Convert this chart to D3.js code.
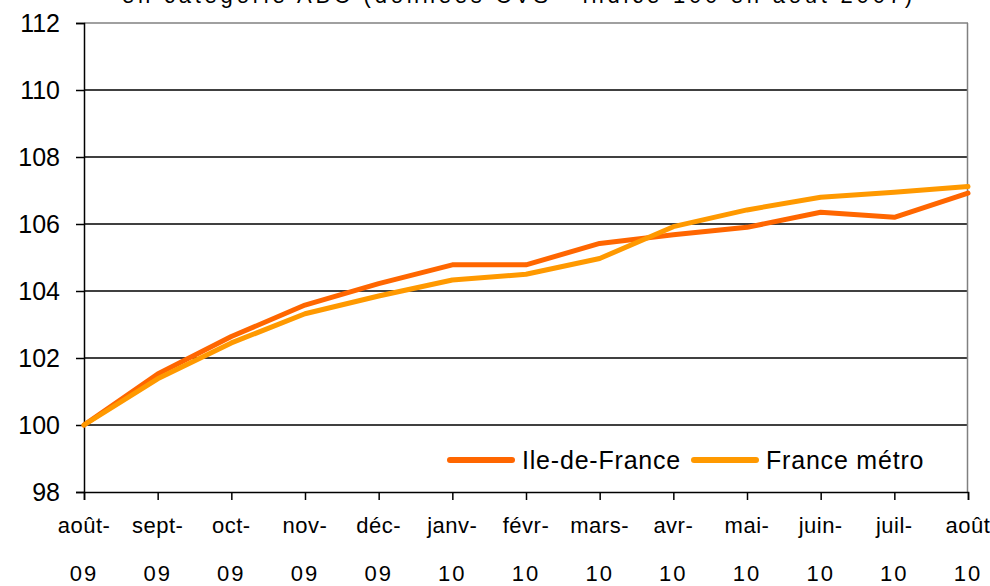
<!DOCTYPE html>
<html>
<head>
<meta charset="utf-8">
<script src="https://cdn.jsdelivr.net/npm/d3@7"></script>
<style>
  body { margin: 0; background: #fff; }
  svg { display: block; font-family: "Liberation Sans", Arial, sans-serif; }
</style>
</head>
<body>
<div id="chart"></div>
<script>
// months along the x axis (two lines each)
var months = ["août-|09", "sept-|09", "oct-|09", "nov-|09", "déc-|09", "janv-|10",
              "févr-|10", "mars-|10", "avr-|10", "mai-|10", "juin-|10", "juil-|10", "août|10"];
var yTicks = [98, 100, 102, 104, 106, 108, 110, 112];
var ileDeFrance = [100, 101.52, 102.64, 103.58, 104.22, 104.78, 104.78, 105.42, 105.68, 105.9, 106.35, 106.2, 106.92];
var franceMetro = [100, 101.38, 102.45, 103.32, 103.85, 104.33, 104.5, 104.97, 105.92, 106.42, 106.8, 106.95, 107.12];
var seriesNames = ["Ile-de-France", "France métro"];
var seriesColors = ["#ff6600", "#ff9900"];
var title = "en catégorie ABC (données CVS - indice 100 en août 2007)";

var W = 990, H = 586;
var margin = { top: 23, right: 22, bottom: 94, left: 84 };

var svg = d3.select("#chart").append("svg")
  .attr("width", W)
  .attr("height", H);

var x = d3.scalePoint()
  .domain(months)
  .range([margin.left, W - margin.right]);

var y = d3.scaleLinear()
  .domain([98, 112])
  .range([H - margin.bottom, margin.top]);

// title, mostly cut off at the top
svg.append("text")
  .attr("x", 517)
  .attr("y", 3)
  .attr("text-anchor", "middle")
  .attr("font-size", 22)
  .attr("textLength", 790)
  .attr("lengthAdjust", "spacing")
  .attr("fill", "#000")
  .text(title);

// grid lines
svg.append("g")
  .selectAll("line")
  .data(yTicks.filter(function(d) { return d > 98 && d < 112; }))
  .enter()
  .append("line")
  .attr("x1", margin.left)
  .attr("x2", W - margin.right)
  .attr("y1", function(d) { return y(d); })
  .attr("y2", function(d) { return y(d); })
  .attr("stroke", "#000")
  .attr("stroke-width", 1.5);

// plot border top and right (grey)
svg.append("line")
  .attr("x1", margin.left).attr("x2", W - margin.right)
  .attr("y1", y(112)).attr("y2", y(112))
  .attr("stroke", "#808080").attr("stroke-width", 1.5);
svg.append("line")
  .attr("x1", W - margin.right - 0.5).attr("x2", W - margin.right - 0.5)
  .attr("y1", y(112)).attr("y2", y(98))
  .attr("stroke", "#808080").attr("stroke-width", 1.5);

// y axis
var yAxis = d3.axisLeft(y).tickValues(yTicks).tickSize(8).tickPadding(16);
var gy = svg.append("g")
  .attr("transform", "translate(" + margin.left + ",0)")
  .call(yAxis);
gy.select(".domain").attr("stroke", "#000").attr("stroke-width", 1.5);
gy.selectAll(".tick line").attr("stroke", "#000").attr("stroke-width", 1.5);
gy.selectAll(".tick text")
  .attr("font-size", 25)
  .attr("font-family", "Liberation Sans, Arial, sans-serif")
  .attr("fill", "#000");

// x axis
var xAxis = d3.axisBottom(x).tickSize(8).tickFormat("");
var gx = svg.append("g")
  .attr("transform", "translate(0," + y(98) + ")")
  .call(xAxis);
gx.select(".domain").attr("stroke", "#000").attr("stroke-width", 1.5);
gx.selectAll(".tick line").attr("stroke", "#000").attr("stroke-width", 1.5);

var labels = svg.append("g")
  .selectAll("text")
  .data(months)
  .enter()
  .append("text")
  .attr("text-anchor", "middle")
  .attr("font-size", 22)
  .attr("letter-spacing", 0.5)
  .attr("fill", "#000");
labels.append("tspan")
  .attr("x", function(d) { return x(d); })
  .attr("y", 533)
  .text(function(d) { return d.split("|")[0]; });
labels.append("tspan")
  .attr("x", function(d) { return x(d); })
  .attr("y", 581)
  .attr("letter-spacing", 2)
  .text(function(d) { return d.split("|")[1]; });

// lines
var line = d3.line()
  .x(function(d, i) { return x(months[i]); })
  .y(function(d) { return y(d); });

[ileDeFrance, franceMetro].forEach(function(s, i) {
  svg.append("path")
    .datum(s)
    .attr("fill", "none")
    .attr("stroke", seriesColors[i])
    .attr("stroke-width", 5)
    .attr("stroke-linejoin", "round")
    .attr("stroke-linecap", "round")
    .attr("d", line);
});

// legend
var legendX = [450, 694];
seriesNames.forEach(function(name, i) {
  var g = svg.append("g").attr("transform", "translate(" + legendX[i] + ",460)");
  g.append("line")
    .attr("x1", 0).attr("x2", 62)
    .attr("y1", 0).attr("y2", 0)
    .attr("stroke", seriesColors[i])
    .attr("stroke-width", 6)
    .attr("stroke-linecap", "round");
  g.append("text")
    .attr("x", 72)
    .attr("y", 9)
    .attr("font-size", 25)
    .attr("letter-spacing", 0.8)
    .attr("fill", "#000")
    .text(name);
});
</script>
</body>
</html>
